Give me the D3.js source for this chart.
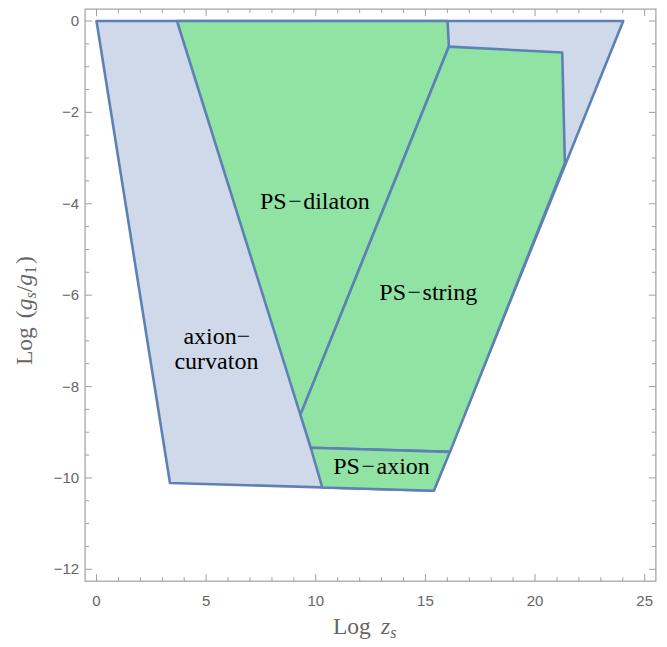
<!DOCTYPE html>
<html><head><meta charset="utf-8">
<script src="https://cdn.jsdelivr.net/npm/d3@7"></script>
<style>body{margin:0;background:#fff}</style>
</head><body>
<svg id="c" width="667" height="647"></svg>
<script>
// Region vertices [Log z_s, Log(g_s/g_1)]
const axionCurvaton = [[0,0],[24.02,0],[15.38,-10.28],[3.35,-10.11]];
const psDilaton = [[3.67,0],[16.01,0],[16.07,-0.56],[9.3,-8.62]];
const psString = [[16.07,-0.56],[21.24,-0.69],[21.36,-3.11],[16.12,-9.43],[9.77,-9.34],[9.3,-8.62]];
const psAxion = [[9.77,-9.34],[16.12,-9.43],[15.38,-10.28],[10.3,-10.21]];
// label text and anchor (data coords: centre x, baseline y)
const regionLabels = [
  {parts:["PS","\u2212","dilaton"], pos:[9.96,-4.12]},
  {parts:["PS","\u2212","string"], pos:[15.13,-6.11]},
  {parts:["axion\u2212"], pos:[5.49,-7.07]},
  {parts:["curvaton"], pos:[5.47,-7.62]},
  {parts:["PS","\u2212","axion"], pos:[13.0,-9.91]}
];
const xTicks = [0,5,10,15,20,25];
const yTicks = [0,-2,-4,-6,-8,-10,-12];
const plotRange = {x:[-0.52,25.51], y:[-12.26,0.26]};

const svg = d3.select("#c");
const x = d3.scaleLinear().domain([0,25]).range([96.5,644.7]);
const y = d3.scaleLinear().domain([0,-12]).range([21,569.3]);
const X0 = x(plotRange.x[0]), X1 = x(plotRange.x[1]);
const Y0 = y(plotRange.y[1]), Y1 = y(plotRange.y[0]);

const line = d3.line().x(d=>x(d[0])).y(d=>y(d[1]));
const stroke = "#5e81b5";
function poly(pts, fill){
  svg.append("path").attr("d", line(pts)+"Z").attr("fill",fill)
    .attr("stroke",stroke).attr("stroke-width",2.6).attr("stroke-linejoin","round");
}
poly(axionCurvaton, "#cfd9e9");
poly(psDilaton, "#91e3a4");
poly(psString, "#91e3a4");
poly(psAxion, "#91e3a4");

// frame
const frameColor = "#a0a0a0";
svg.append("rect").attr("x",X0).attr("y",Y0).attr("width",X1-X0).attr("height",Y1-Y0)
  .attr("fill","none").attr("stroke",frameColor).attr("stroke-width",1.2);

const g = svg.append("g").attr("stroke",frameColor).attr("stroke-width",1);
d3.range(0,26,1).forEach(v=>{
  const len = (v%5===0)?7:4;
  g.append("line").attr("x1",x(v)).attr("x2",x(v)).attr("y1",Y1).attr("y2",Y1-len);
  g.append("line").attr("x1",x(v)).attr("x2",x(v)).attr("y1",Y0).attr("y2",Y0+len);
});
d3.range(0,-12.01,-0.5).forEach(v=>{
  const len = (Math.abs(v)%2===0)?7:4;
  g.append("line").attr("y1",y(v)).attr("y2",y(v)).attr("x1",X0).attr("x2",X0+len);
  g.append("line").attr("y1",y(v)).attr("y2",y(v)).attr("x1",X1).attr("x2",X1-len);
});
const fmt = v => v<0 ? "\u2212"+Math.abs(v) : ""+v;
svg.selectAll(".xt").data(xTicks).enter().append("text")
  .attr("x",d=>x(d)).attr("y",Y1+25).attr("text-anchor","middle")
  .attr("font-family","Liberation Sans, Arial, sans-serif").attr("font-size",15).attr("fill","#666")
  .text(fmt);
svg.selectAll(".yt").data(yTicks).enter().append("text")
  .attr("x",X0-6).attr("y",d=>y(d)+5).attr("text-anchor","end")
  .attr("font-family","Liberation Sans, Arial, sans-serif").attr("font-size",15).attr("fill","#666")
  .text(fmt);

// region labels
regionLabels.forEach(l=>{
  const t = svg.append("text").attr("font-family","Liberation Serif, Times New Roman, serif")
    .attr("font-size",24).attr("fill","#000").attr("text-anchor","middle")
    .attr("x",x(l.pos[0])).attr("y",y(l.pos[1]));
  l.parts.forEach((s,i)=>{
    const ts = t.append("tspan").text(s);
    if(l.parts.length>1 && i>0) ts.attr("dx",1.5);
  });
});

// axis titles
const serif = "Liberation Serif, Times New Roman, serif";
const xt = svg.append("text").attr("x",333).attr("y",634)
  .attr("font-family",serif).attr("font-size",23.5).attr("fill","#666");
xt.append("tspan").text("Log");
xt.append("tspan").attr("x",381).attr("font-style","italic").text("z");
xt.append("tspan").attr("font-style","italic").attr("font-size",16).attr("dy",4).text("s");

const yt = svg.append("text").attr("transform","translate(32,365) rotate(-90)")
  .attr("font-family",serif).attr("font-size",23.5).attr("fill","#666");
yt.append("tspan").text("Log");
yt.append("tspan").attr("dx",9).text("(");
yt.append("tspan").attr("font-style","italic").text("g");
yt.append("tspan").attr("font-style","italic").attr("font-size",16).attr("dy",4).text("s");
yt.append("tspan").attr("dy",-4).text("/");
yt.append("tspan").attr("font-style","italic").text("g");
yt.append("tspan").attr("font-size",16).attr("dy",4).text("1");
yt.append("tspan").attr("dy",-4).attr("dx",2).text(")");
</script>
</body></html>
